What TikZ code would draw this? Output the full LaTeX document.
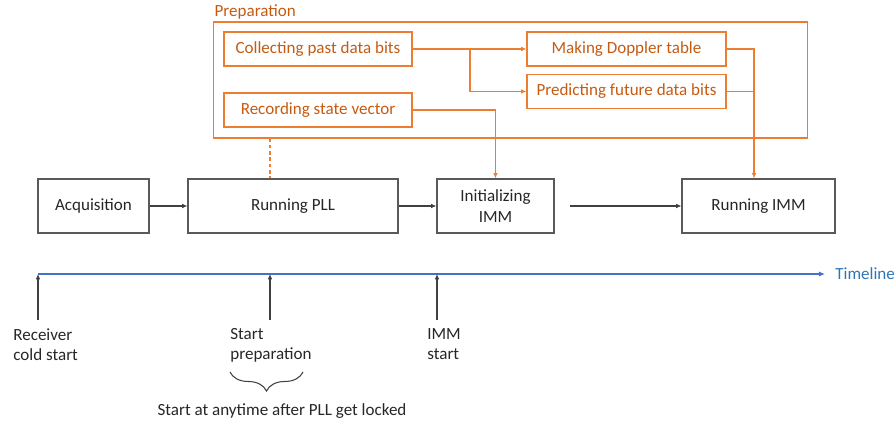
\documentclass[tikz,border=0pt]{standalone}
\usepackage{fontspec}
\setmainfont{Carlito}
\usetikzlibrary{arrows.meta,decorations.pathreplacing}
\definecolor{prepline}{HTML}{ED7D31}
\definecolor{preptext}{HTML}{C55A11}
\definecolor{tline}{HTML}{4472C4}
\definecolor{ttext}{HTML}{2F75B5}
\tikzset{
	stage/.style = {draw=black!65, line width=0.6pt, minimum height=1.08cm, align=center, text=black!85},
	task/.style = {draw=prepline, line width=0.6pt, minimum height=0.68cm, text=preptext},
	arr/.style = {draw=black!75, line width=0.6pt, -{Latex[length=3pt,width=2.6pt]}},
	orarr/.style = {draw=prepline, line width=0.6pt, -{Latex[length=3pt,width=2.6pt]}},
	orline/.style = {draw=prepline, line width=0.6pt},
	event/.style = {align=left, anchor=north west, inner sep=0pt, text=black!85}
}
\begin{document}
\begin{tikzpicture}[x=0.02cm, y=-0.02cm, font=\fontsize{9.7}{11.5}\selectfont]
	\useasboundingbox (0,0) rectangle (896,425);
	\node[draw=prepline, line width=0.6pt, minimum width=11.9cm, minimum height=2.32cm] (prep) at (510.5,80) {};
	\node[anchor=south west, inner sep=1pt, text=preptext] (preplabel) at (prep.north west) {Preparation};
	\node[task, minimum width=3.76cm] (collect) at (318,49) {Collecting past data bits};
	\node[task, minimum width=3.76cm] (record) at (318,110) {Recording state vector};
	\node[task, minimum width=3.98cm] (doppler) at (626.5,49) {Making Doppler table};
	\node[task, minimum width=3.98cm] (predict) at (626.5,91.5) {Predicting future data bits};

	\node[stage, minimum width=2.22cm] (acq) at (93.5,206) {Acquisition};
	\node[stage, minimum width=4.2cm] (pll) at (293,206) {Running PLL};
	\node[stage, minimum width=2.34cm] (initimm) at (495.5,206) {Initializing\\IMM};
	\node[stage, minimum width=3.06cm] (runimm) at (758.5,206) {Running IMM};

	\coordinate (split) at (470,49);
	\coordinate (join) at (754,91.5);
	\coordinate (dashx) at (270,0);
	\draw[orarr] (collect) -- (doppler);
	\draw[orarr] (split) |- (predict);
	\draw[orarr] (record) -| (initimm);
	\draw[orline] (doppler.east) -| (join);
	\draw[orarr] (predict.east) -- (join) -- (join |- runimm.north);
	\draw[orline, dash pattern=on 2pt off 1.6pt] (prep.south -| dashx) -- (pll.north -| dashx);

	\draw[arr] (acq) -- (pll);
	\draw[arr] (pll) -- (initimm);
	\draw[arr, shorten <=0.3cm] (initimm) -- (runimm);

	\coordinate (t0) at (38,274);
	\coordinate (t1) at (825,274);
	\draw[draw=tline, line width=0.9pt, -{Latex[length=3.5pt,width=3pt]}] (t0) -- (t1);
	\node[anchor=west, inner sep=0pt, text=ttext] (tlabel) at (835,274) {Timeline};

	\coordinate (e1) at (38,320);
	\coordinate (e2) at (270,320);
	\coordinate (e3) at (437,320);
	\draw[arr] (e1) -- (e1 |- t0);
	\draw[arr] (e2) -- (e2 |- t0);
	\draw[arr] (e3) -- (e3 |- t0);
	\node[event] (cold) at (13,328) {Receiver\\cold start};
	\node[event] (prepstart) at (230,328) {Start\\preparation};
	\node[event] (immstart) at (427,328) {IMM\\start};

	\draw[black!75, line width=0.6pt, decorate, decoration={brace, mirror, amplitude=0.38cm}] (230,372) -- (303,372);
	\node[text=black!85] (anytime) at (282,411) {Start at anytime after PLL get locked};
\end{tikzpicture}
\end{document}
